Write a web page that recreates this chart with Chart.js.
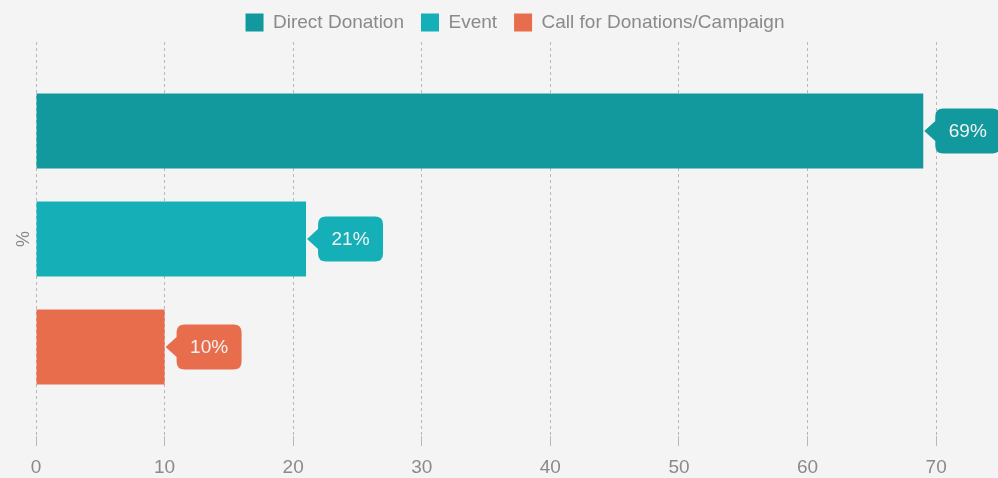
<!DOCTYPE html>
<html>
<head>
<meta charset="utf-8">
<script src="https://cdn.jsdelivr.net/npm/chart.js@4.4.1/dist/chart.umd.min.js"></script>
<style>
  html, body { margin: 0; padding: 0; background: #f4f4f4; }
  #wrap { width: 998px; height: 478px; position: relative; }
</style>
</head>
<body>
<div id="wrap"><canvas id="c"></canvas></div>
<script>
const categories = [''];
const seriesNames = ['Direct Donation', 'Event', 'Call for Donations/Campaign'];
const directDonation = [69];
const eventValues = [21];
const callForDonations = [10];
const xTicks = [0, 10, 20, 30, 40, 50, 60, 70];
const axisTitle = '%';
const colors = ['#12999d', '#15b0b7', '#e86d4c'];
const FONT = '"Liberation Sans", Arial, sans-serif';

const calloutPlugin = {
  id: 'callouts',
  afterDatasetsDraw(chart) {
    const ctx = chart.ctx;
    chart.data.datasets.forEach((ds, i) => {
      const meta = chart.getDatasetMeta(i);
      if (meta.hidden) return;
      meta.data.forEach((el, j) => {
        const x = el.x, y = el.y;
        const gap = 12, w = 65, h = 45, r = 8, ah = 10;
        const left = x + gap, top = y - h / 2;
        ctx.save();
        ctx.fillStyle = ds.backgroundColor;
        ctx.beginPath();
        ctx.moveTo(left + r, top);
        ctx.lineTo(left + w - r, top);
        ctx.quadraticCurveTo(left + w, top, left + w, top + r);
        ctx.lineTo(left + w, top + h - r);
        ctx.quadraticCurveTo(left + w, top + h, left + w - r, top + h);
        ctx.lineTo(left + r, top + h);
        ctx.quadraticCurveTo(left, top + h, left, top + h - r);
        ctx.lineTo(left, y + ah);
        ctx.lineTo(x + 1, y);
        ctx.lineTo(left, y - ah);
        ctx.lineTo(left, top + r);
        ctx.quadraticCurveTo(left, top, left + r, top);
        ctx.closePath();
        ctx.fill();
        ctx.fillStyle = '#f2f2f2';
        ctx.font = '19px ' + FONT;
        ctx.textAlign = 'center';
        ctx.textBaseline = 'middle';
        ctx.fillText(ds.data[j] + '%', left + w / 2, y + 1);
        ctx.restore();
      });
    });
  }
};

const bgPlugin = {
  id: 'bg',
  beforeDraw(chart) {
    const ctx = chart.ctx;
    ctx.save();
    ctx.fillStyle = '#f4f4f4';
    ctx.fillRect(0, 0, chart.width, chart.height);
    ctx.restore();
  }
};

const seriesData = [directDonation, eventValues, callForDonations];

new Chart(document.getElementById('c'), {
  type: 'bar',
  data: {
    labels: categories,
    datasets: seriesNames.map((name, i) => ({
      label: name,
      data: seriesData[i],
      backgroundColor: colors[i],
      borderWidth: 0,
      categoryPercentage: 0.822,
      barPercentage: 0.694
    }))
  },
  options: {
    indexAxis: 'y',
    responsive: true,
    maintainAspectRatio: false,
    animation: false,
    layout: { padding: { top: -4, right: 4, left: 0, bottom: 0 } },
    plugins: {
      legend: {
        position: 'top',
        fullSize: false,
        labels: {
          boxWidth: 18,
          boxHeight: 18,
          padding: 17,
          color: '#8a8a8a',
          font: { size: 19, family: FONT }
        }
      },
      tooltip: { enabled: false }
    },
    scales: {
      x: {
        min: 0,
        max: 74.5,
        afterBuildTicks(scale) {
          scale.ticks = xTicks.map(v => ({ value: v }));
        },
        afterFit(scale) { scale.height = 42; },
        grid: {
          color: '#b8b8b8',
          lineWidth: 1,
          tickLength: 10,
          drawTicks: true
        },
        border: { display: false, dash: [3, 3] },
        ticks: {
          color: '#8a8a8a',
          padding: 10,
          font: { size: 19, family: FONT }
        }
      },
      y: {
        afterFit(scale) { scale.width = 36; },
        grid: { display: false },
        border: { display: false },
        ticks: { display: false },
        title: {
          display: true,
          text: axisTitle,
          color: '#8a8a8a',
          padding: { top: 13, bottom: 0 },
          font: { size: 18, family: FONT }
        }
      }
    }
  },
  plugins: [bgPlugin, calloutPlugin]
});
</script>
</body>
</html>
